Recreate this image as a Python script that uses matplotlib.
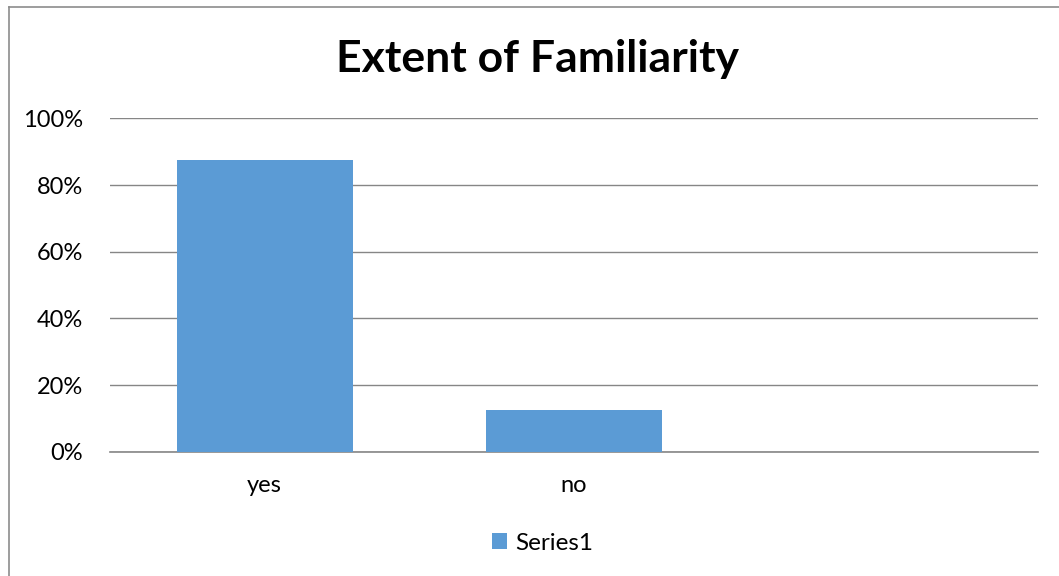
import matplotlib
matplotlib.use("Agg")
import matplotlib.pyplot as plt
from matplotlib.lines import Line2D
from matplotlib.patches import Patch
from matplotlib.ticker import FuncFormatter

categories = ["yes", "no", ""]
values = [0.875, 0.125, None]
series_name = "Series1"
title = "Extent of Familiarity"
yticks = [0, 0.2, 0.4, 0.6, 0.8, 1.0]

bar_color = "#5B9BD5"
grid_color = "#868686"
fam = ["Lato", "DejaVu Sans"]

W, H = 1059, 576
fig = plt.figure(figsize=(W / 100, H / 100), dpi=100)
fig.patch.set_facecolor("white")

# chart-area border (left and top edges)
fig.add_artist(Line2D([8.5 / W, 8.5 / W], [0, 1 - 6.5 / H], transform=fig.transFigure,
                      color="#8c8c8c", lw=1.2))
fig.add_artist(Line2D([8.5 / W, 1], [1 - 6.5 / H, 1 - 6.5 / H], transform=fig.transFigure,
                      color="#8c8c8c", lw=1.2))

left, right = 110 / W, 1038 / W
bottom, top = 1 - 451.8 / H, 1 - 118.3 / H
ax = fig.add_axes([left, bottom, right - left, top - bottom])

xs = list(range(len(categories)))
bx = [x for x, v in zip(xs, values) if v is not None]
bv = [v for v in values if v is not None]
ax.bar(bx, bv, width=0.57, color=bar_color, zorder=3)

ax.set_xlim(-0.5, len(categories) - 0.5)
ax.set_ylim(0, 1.0)
ax.set_yticks(yticks)
ax.yaxis.set_major_formatter(FuncFormatter(lambda v, p: f"{v * 100:.0f}%"))
ax.set_xticks(xs)
ax.set_xticklabels(categories)

ax.grid(axis="y", color=grid_color, lw=1.0, zorder=0)
for s in ["top", "right", "left"]:
    ax.spines[s].set_visible(False)
ax.spines["bottom"].set_color(grid_color)
ax.spines["bottom"].set_linewidth(1.2)
ax.tick_params(axis="both", length=0, labelsize=17, colors="black")
ax.tick_params(axis="y", pad=19.5)
ax.tick_params(axis="x", pad=17)
for lbl in ax.get_xticklabels() + ax.get_yticklabels():
    lbl.set_fontfamily(fam)

fig.text(538 / W, 1 - 59 / H, title, ha="center", va="center",
         fontsize=32, fontweight="bold", family=fam)

handles = [Patch(facecolor=bar_color, edgecolor="none", label=series_name)]
leg = fig.legend(handles=handles, loc="center", bbox_to_anchor=(543 / W, 1 - 543 / H),
                 frameon=False, prop={"family": fam, "size": 17.5},
                 handlelength=0.6, handleheight=0.6, handletextpad=0.35)

fig.savefig("out.png", dpi=100, facecolor="white")
